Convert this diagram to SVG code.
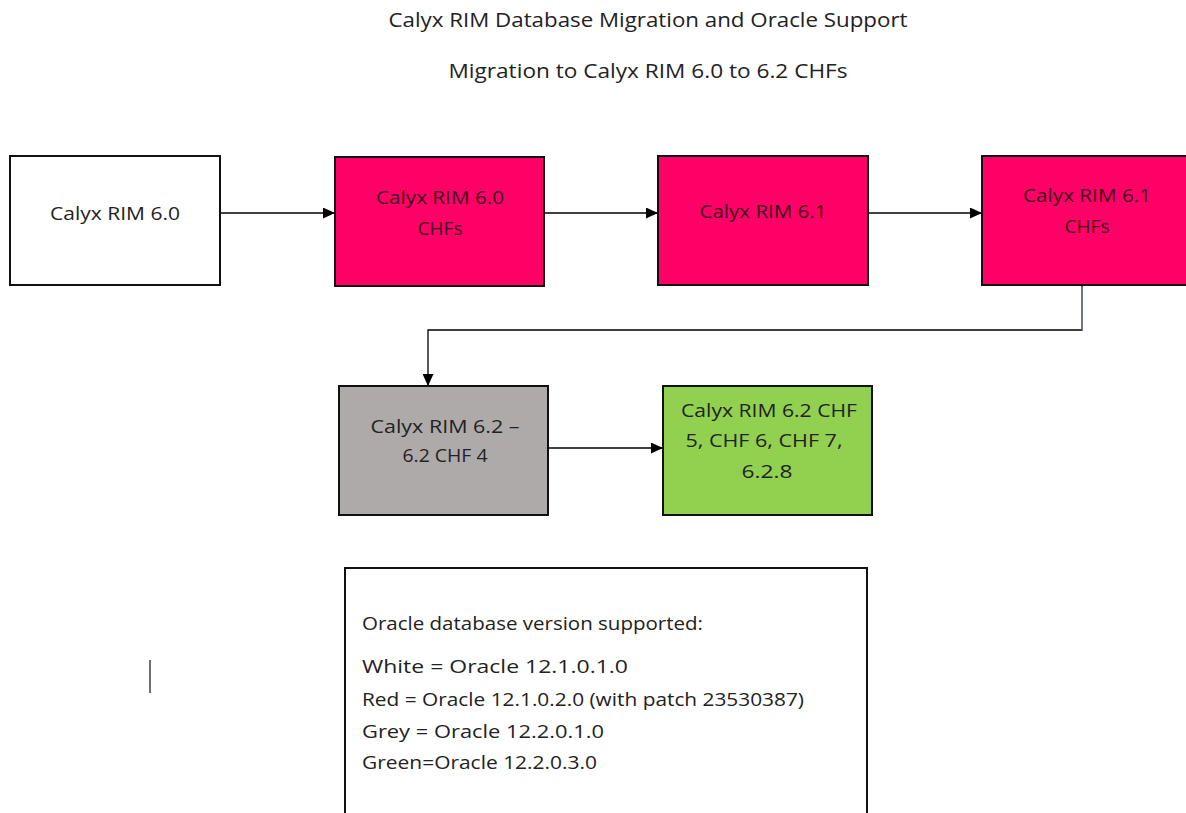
<svg xmlns="http://www.w3.org/2000/svg" width="1186" height="813" viewBox="0 0 1186 813">
<defs>
<marker id="arr" markerWidth="12" markerHeight="11" refX="11" refY="5.5" orient="auto" markerUnits="userSpaceOnUse">
<path d="M0,0 L12,5.5 L0,11 Z" fill="#000"/>
</marker>
<style>
text{font-family:"Open Sans","Noto Sans","Liberation Sans",sans-serif;font-size:18px;fill:#222;}
.t{font-size:20px;}
.redt{fill:#3d0a1c;}
.box{stroke:#111;stroke-width:2;}
.white{fill:#fff;}
.red{fill:#ff0066;}
.grey{fill:#aeaaaa;}
.green{fill:#92d050;}
.c{fill:none;stroke:#000;stroke-width:1.3;}
</style>
</defs>
<rect width="1186" height="813" fill="#fff"/>
<g id="title">
<text class="t" x="648" y="27" text-anchor="middle" textLength="519" lengthAdjust="spacingAndGlyphs">Calyx RIM Database Migration and Oracle Support</text>
<text class="t" x="648" y="78" text-anchor="middle" textLength="399" lengthAdjust="spacingAndGlyphs">Migration to Calyx RIM 6.0 to 6.2 CHFs</text>
</g>
<g id="connectors">
<line class="c" x1="221" y1="213" x2="334" y2="213" marker-end="url(#arr)"/>
<line class="c" x1="545" y1="213" x2="657" y2="213" marker-end="url(#arr)"/>
<line class="c" x1="869" y1="213" x2="981" y2="213" marker-end="url(#arr)"/>
<polyline class="c" points="1082,286 1082,330 428,330 428,385" marker-end="url(#arr)"/>
<line x1="1082" y1="287" x2="1082" y2="330" stroke="#7a8aa6" stroke-width="1.3"/>
<line class="c" x1="549" y1="448" x2="662" y2="448" marker-end="url(#arr)"/>
</g>
<g id="n1">
<rect class="box white" x="10" y="156" width="210" height="129"/>
<text x="115" y="220" text-anchor="middle" textLength="130" lengthAdjust="spacingAndGlyphs">Calyx RIM 6.0</text>
</g>
<g id="n2">
<rect class="box red" x="335" y="157" width="209" height="129"/>
<text class="redt" x="440" y="204" text-anchor="middle" textLength="128" lengthAdjust="spacingAndGlyphs">Calyx RIM 6.0</text>
<text class="redt" x="440" y="235" text-anchor="middle" textLength="45" lengthAdjust="spacingAndGlyphs">CHFs</text>
</g>
<g id="n3">
<rect class="box red" x="658" y="156" width="210" height="129"/>
<text class="redt" x="763" y="218" text-anchor="middle" textLength="127" lengthAdjust="spacingAndGlyphs">Calyx RIM 6.1</text>
</g>
<g id="n4">
<rect class="box red" x="982" y="156" width="210" height="129"/>
<text class="redt" x="1087" y="202" text-anchor="middle" textLength="128" lengthAdjust="spacingAndGlyphs">Calyx RIM 6.1</text>
<text class="redt" x="1087" y="233" text-anchor="middle" textLength="45" lengthAdjust="spacingAndGlyphs">CHFs</text>
</g>
<g id="n5">
<rect class="box grey" x="339" y="386" width="209" height="129"/>
<text x="445" y="433" text-anchor="middle" textLength="149" lengthAdjust="spacingAndGlyphs">Calyx RIM 6.2 –</text>
<text x="445" y="462" text-anchor="middle" textLength="85" lengthAdjust="spacingAndGlyphs">6.2 CHF 4</text>
</g>
<g id="n6">
<rect class="box green" x="663" y="386" width="209" height="129"/>
<text x="769" y="417" text-anchor="middle" textLength="176" lengthAdjust="spacingAndGlyphs">Calyx RIM 6.2 CHF</text>
<text x="764" y="447" text-anchor="middle" textLength="157" lengthAdjust="spacingAndGlyphs">5, CHF 6, CHF 7,</text>
<text x="767" y="478" text-anchor="middle" textLength="51" lengthAdjust="spacingAndGlyphs">6.2.8</text>
</g>
<g id="legend">
<rect x="345" y="568" width="522" height="260" fill="#fff" stroke="#111" stroke-width="2"/>
<text x="362" y="630" textLength="341" lengthAdjust="spacingAndGlyphs">Oracle database version supported:</text>
<text x="362" y="673" textLength="266" lengthAdjust="spacingAndGlyphs">White = Oracle 12.1.0.1.0</text>
<text x="362" y="706" textLength="442" lengthAdjust="spacingAndGlyphs">Red = Oracle 12.1.0.2.0 (with patch 23530387)</text>
<text x="362" y="738" textLength="242" lengthAdjust="spacingAndGlyphs">Grey = Oracle 12.2.0.1.0</text>
<text x="362" y="769" textLength="235" lengthAdjust="spacingAndGlyphs">Green=Oracle 12.2.0.3.0</text>
</g>
<line x1="150" y1="660" x2="150" y2="693" stroke="#222" stroke-width="1.3"/>
</svg>
